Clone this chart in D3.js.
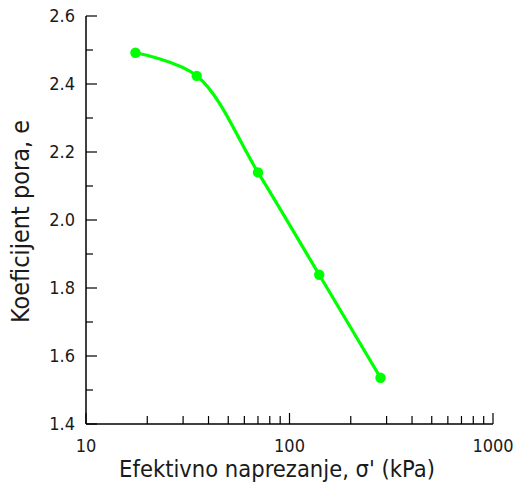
<!DOCTYPE html>
<html><head><meta charset="utf-8">
<script src="https://cdn.jsdelivr.net/npm/d3@7"></script>
<style>body{margin:0;background:#fff;} svg{display:block;}</style>
</head><body>
<svg id="c" width="515" height="484"></svg>
<script>
const stress = [17.5, 35, 70, 140, 280];
const voidRatio = [2.492, 2.424, 2.140, 1.839, 1.536];
const yMajorTicks = [1.4, 1.6, 1.8, 2.0, 2.2, 2.4, 2.6];
const yMinorTicks = [1.5, 1.7, 1.9, 2.1, 2.3, 2.5];
const xMajorTicks = [10, 100, 1000];
const xMinorTicks = [20,30,40,50,60,70,80,90,200,300,400,500,600,700,800,900];
const xTitle = "Efektivno naprezanje, σ' (kPa)";
const yTitle = "Koeficijent pora, e";

const font = "'DejaVu Sans Condensed', 'DejaVu Sans', sans-serif";
const svg = d3.select("#c");
const L = 86, R = 493, T = 16, B = 424;
const x = d3.scaleLog().domain([10, 1000]).range([L, R]);
const y = d3.scaleLinear().domain([1.4, 2.6]).range([B, T]);

function fit(sel, target) {
  const fs = +sel.attr("font-size");
  const w = sel.node().getComputedTextLength();
  if (w > 0) sel.attr("font-size", fs * target / w);
}

const g = svg.append("g");
g.append("line").attr("x1", L).attr("x2", L).attr("y1", T).attr("y2", B).attr("stroke", "#000").attr("stroke-width", 1.5);
g.append("line").attr("x1", L).attr("x2", R).attr("y1", B).attr("y2", B).attr("stroke", "#000").attr("stroke-width", 1.5);

g.selectAll(".ymaj").data(yMajorTicks).join("line")
  .attr("x1", L).attr("x2", L + 11).attr("y1", d => y(d)).attr("y2", d => y(d))
  .attr("stroke", "#000").attr("stroke-width", 1.2);
g.selectAll(".ymin").data(yMinorTicks).join("line")
  .attr("x1", L).attr("x2", L + 7).attr("y1", d => y(d)).attr("y2", d => y(d))
  .attr("stroke", "#000").attr("stroke-width", 1.2);
g.selectAll(".ylab").data(yMajorTicks).join("text")
  .attr("x", L - 11).attr("y", d => y(d)).attr("dy", "0.36em")
  .attr("text-anchor", "end").attr("font-family", font).attr("font-size", 18)
  .attr("fill", "#1a1a1a").text(d => d.toFixed(1));

g.selectAll(".xmaj").data(xMajorTicks).join("line")
  .attr("x1", d => x(d)).attr("x2", d => x(d)).attr("y1", B).attr("y2", B - 11)
  .attr("stroke", "#000").attr("stroke-width", 1.2);
g.selectAll(".xmin").data(xMinorTicks).join("line")
  .attr("x1", d => x(d)).attr("x2", d => x(d)).attr("y1", B).attr("y2", B - 8)
  .attr("stroke", "#000").attr("stroke-width", 1.2);
g.selectAll(".xlab").data(xMajorTicks).join("text")
  .attr("x", d => x(d)).attr("y", 446).attr("dy", "0.36em")
  .attr("text-anchor", "middle").attr("font-family", font).attr("font-size", 18)
  .attr("fill", "#1a1a1a").text(d => d);

const xt = svg.append("text").attr("x", 277).attr("y", 469).attr("dy", "0.36em")
  .attr("text-anchor", "middle").attr("font-family", font).attr("font-size", 22)
  .attr("fill", "#1a1a1a").text(xTitle);
fit(xt, 316);
const yt = svg.append("text").attr("transform", "translate(20.5,221.5) rotate(-90)").attr("dy", "0.36em")
  .attr("text-anchor", "middle").attr("font-family", font).attr("font-size", 22)
  .attr("fill", "#1a1a1a").text(yTitle);
fit(yt, 203);

const pts = stress.map((s, i) => [s, voidRatio[i]]);
const line = d3.line().x(d => x(d[0])).y(d => y(d[1])).curve(d3.curveCatmullRom.alpha(0.5));
svg.append("path").datum(pts).attr("d", line).attr("fill", "none")
  .attr("stroke", "#00ff00").attr("stroke-width", 3.2);
svg.selectAll(".pt").data(pts).join("circle")
  .attr("cx", d => x(d[0])).attr("cy", d => y(d[1])).attr("r", 5.2).attr("fill", "#00ff00");
</script>
</body></html>
